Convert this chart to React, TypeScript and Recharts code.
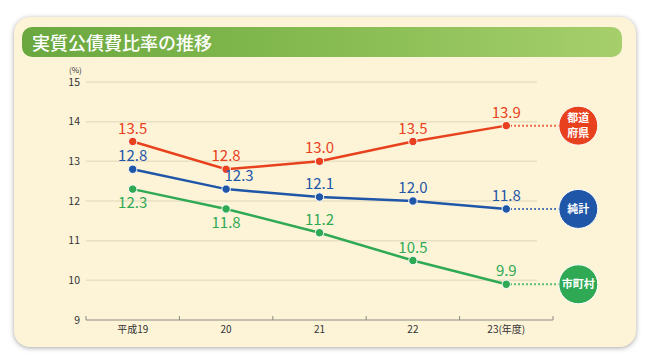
import { LineChart, Line, XAxis, YAxis, CartesianGrid, LabelList } from 'recharts'

// fiscal years (平成)
const years = ['平成19', '20', '21', '22', '23']
const yTicks = [9, 10, 11, 12, 13, 14, 15]

// 実質公債費比率 (%)
const prefValues = [13.5, 12.8, 13.0, 13.5, 13.9]
const totalValues = [12.8, 12.3, 12.1, 12.0, 11.8]
const muniValues = [12.3, 11.8, 11.2, 10.5, 9.9]

const data = years.map((year, i) => ({
  year,
  pref: prefValues[i],
  total: totalValues[i],
  muni: muniValues[i],
}))

const COLORS = {
  pref: '#e8411e',
  total: '#1f56a8',
  muni: '#2fa954',
}

const FONT = '"Noto Sans CJK JP", "Noto Sans", sans-serif'
const BAND = 93.4

// badge drawn at the end of each series, off the last point
const makeDot = (color: string, badge: string[]) => (props: any) => {
  const { cx, cy, index } = props
  const last = index === years.length - 1
  const lineH = 15
  return (
    <g key={`dot-${index}`}>
      {last && (
        <>
          <line x1={cx} y1={cy} x2={cx + 54} y2={cy} stroke={color} strokeWidth={2} strokeDasharray="1.5 2.5" />
          <circle cx={cx + 72} cy={cy} r={19.5} fill={color} stroke="#fff" strokeWidth={1} />
          <text
            x={cx + 72}
            y={cy + 4 - ((badge.length - 1) / 2) * lineH}
            textAnchor="middle"
            fill="#fff"
            fontSize={11}
            fontWeight={700}
            fontFamily={FONT}
          >
            {badge.map((t, k) => (
              <tspan key={k} x={cx + 72} dy={k === 0 ? 0 : lineH}>
                {t}
              </tspan>
            ))}
          </text>
        </>
      )}
      <circle cx={cx} cy={cy} r={4.2} fill={color} stroke="#fff" strokeWidth={1} />
    </g>
  )
}

// label placement: below = true puts value under the point
const makeLabel = (color: string, below: boolean[] = [], shiftX: number[] = []) => (props: any) => {
  const { x, y, value, index } = props
  const dx = shiftX[index] || 0
  return (
    <text
      x={x + dx}
      y={below[index] ? y + 19 : y - 8}
      textAnchor="middle"
      fill={color}
      fontSize={15}
      fontFamily={FONT}
    >
      {value.toFixed(1)}
    </text>
  )
}

const XTick = (props: any) => {
  const { x, y, payload, index } = props
  const axisY = y - 8
  const label = index === years.length - 1 ? `${payload.value}(年度)` : payload.value
  return (
    <g>
      <line x1={x - BAND / 2} x2={x - BAND / 2} y1={axisY} y2={axisY - 4} stroke="#8a8a80" />
      {index === years.length - 1 && (
        <line x1={x + BAND / 2} x2={x + BAND / 2} y1={axisY} y2={axisY - 4} stroke="#8a8a80" />
      )}
      <text x={x} y={y + 5} textAnchor="middle" fill="#333" fontSize={10} fontFamily={FONT}>
        {label}
      </text>
    </g>
  )
}

const GridLine = (props: any) => {
  const { x1, x2, y1, y2, index } = props
  if (Math.abs(y1 - 320) < 2) return <g key={`g-${index}`} />
  return <line key={`g-${index}`} x1={x1} x2={x2 - 16} y1={y1} y2={y2} stroke="#e9e0c4" strokeWidth={1.5} />
}

export default function App() {
  return (
    <div style={{ position: 'absolute', left: 0, top: 0, width: 650, height: 364, background: '#fff', fontFamily: FONT }}>
      <div
        style={{
          position: 'absolute',
          left: 14,
          top: 17,
          width: 622,
          height: 330,
          background: '#fdf4d8',
          borderRadius: 16,
          boxShadow: '0 1px 5px rgba(0,0,0,0.35)',
        }}
      />
      <div
        style={{
          position: 'absolute',
          left: 22,
          top: 27,
          width: 600,
          height: 30,
          borderRadius: 10,
          background: 'linear-gradient(to right, #6aa83f, #86bb51 50%, #a6cf6c)',
          color: '#fff',
          fontSize: 18,
          fontWeight: 500,
          lineHeight: '30px',
          paddingLeft: 10,
          boxSizing: 'border-box',
        }}
      >
        実質公債費比率の推移
      </div>
      <div style={{ position: 'absolute', left: 69, top: 64, fontSize: 8, color: '#333' }}>(%)</div>
      <LineChart
        width={650}
        height={364}
        data={data}
        margin={{ top: 82, right: 97, bottom: 24, left: 56 }}
        style={{ position: 'absolute', left: 0, top: 0 }}
      >
        <CartesianGrid vertical={false} horizontal={GridLine} />
        <XAxis
          dataKey="year"
          height={20}
          tickLine={false}
          axisLine={{ stroke: '#8a8a80', strokeWidth: 1.2 }}
          tick={XTick}
          interval={0}
          padding={{ left: BAND / 2, right: BAND / 2 }}
        />
        <YAxis
          width={30}
          domain={[9, 15]}
          ticks={yTicks}
          axisLine={false}
          tickLine={false}
          tick={{ fontSize: 10.5, fill: '#333', fontFamily: FONT }}
          tickMargin={0}
        />
        <Line
          dataKey="pref"
          stroke={COLORS.pref}
          strokeWidth={2.5}
          dot={makeDot(COLORS.pref, ['都道', '府県'])}
          isAnimationActive={false}
        >
          <LabelList dataKey="pref" content={makeLabel(COLORS.pref)} />
        </Line>
        <Line
          dataKey="total"
          stroke={COLORS.total}
          strokeWidth={2.5}
          dot={makeDot(COLORS.total, ['純計'])}
          isAnimationActive={false}
        >
          <LabelList dataKey="total" content={makeLabel(COLORS.total, [], [0, 13])} />
        </Line>
        <Line
          dataKey="muni"
          stroke={COLORS.muni}
          strokeWidth={2.5}
          dot={makeDot(COLORS.muni, ['市町村'])}
          isAnimationActive={false}
        >
          <LabelList dataKey="muni" content={makeLabel(COLORS.muni, [true, true])} />
        </Line>
      </LineChart>
    </div>
  )
}
